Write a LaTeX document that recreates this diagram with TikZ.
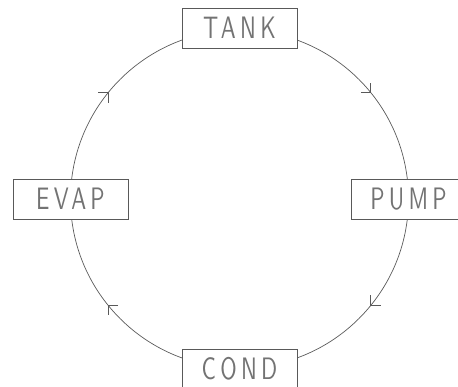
\documentclass[tikz,border=0pt]{standalone}
\usepackage{fontspec}
\usetikzlibrary{calc}
\newfontfamily\cadfont[FakeStretch=0.72,LetterSpace=14]{lmsans10-regular.otf}
\tikzset{
  line/.style={draw=black!65, line width=0.7pt},
  unitbox/.style={line, fill=white, minimum width=115pt, minimum height=40pt,
    inner sep=0pt, font=\fontsize{31}{31}\cadfont, text=black!55},
  barb/.style={line, line width=0.8pt}
}
\begin{document}
\begin{tikzpicture}[x=1pt,y=-1pt]
\useasboundingbox (0,0) rectangle (458,387);
\clip (0,0) rectangle (458,387);
\coordinate (c) at (239.5,199);
\draw[line] (c) circle[radius=169];
\node[unitbox] (tank) at (239.5,28) {TANK};
\node[unitbox] (evap) at (70.5,199) {EVAP};
\node[unitbox] (pump) at (408.5,199) {PUMP};
\node[unitbox] (cond) at (239.5,369) {COND};
% direction ticks
\coordinate (a1) at ($(c)+(-39:169)$);
\coordinate (a2) at ($(c)+(39:169)$);
\coordinate (a3) at ($(c)+(141:169)$);
\coordinate (a4) at ($(c)+(-141:169)$);
\draw[barb] ($(a1)+(-10,0)$) -- (a1) -- ++(0,-10);
\draw[barb] ($(a2)+(10,0)$) -- (a2) -- ++(0,-10);
\draw[barb] ($(a3)+(10,0)$) -- (a3) -- ++(0,10);
\draw[barb] ($(a4)+(-10,0)$) -- (a4) -- ++(0,10);
\end{tikzpicture}
\end{document}
